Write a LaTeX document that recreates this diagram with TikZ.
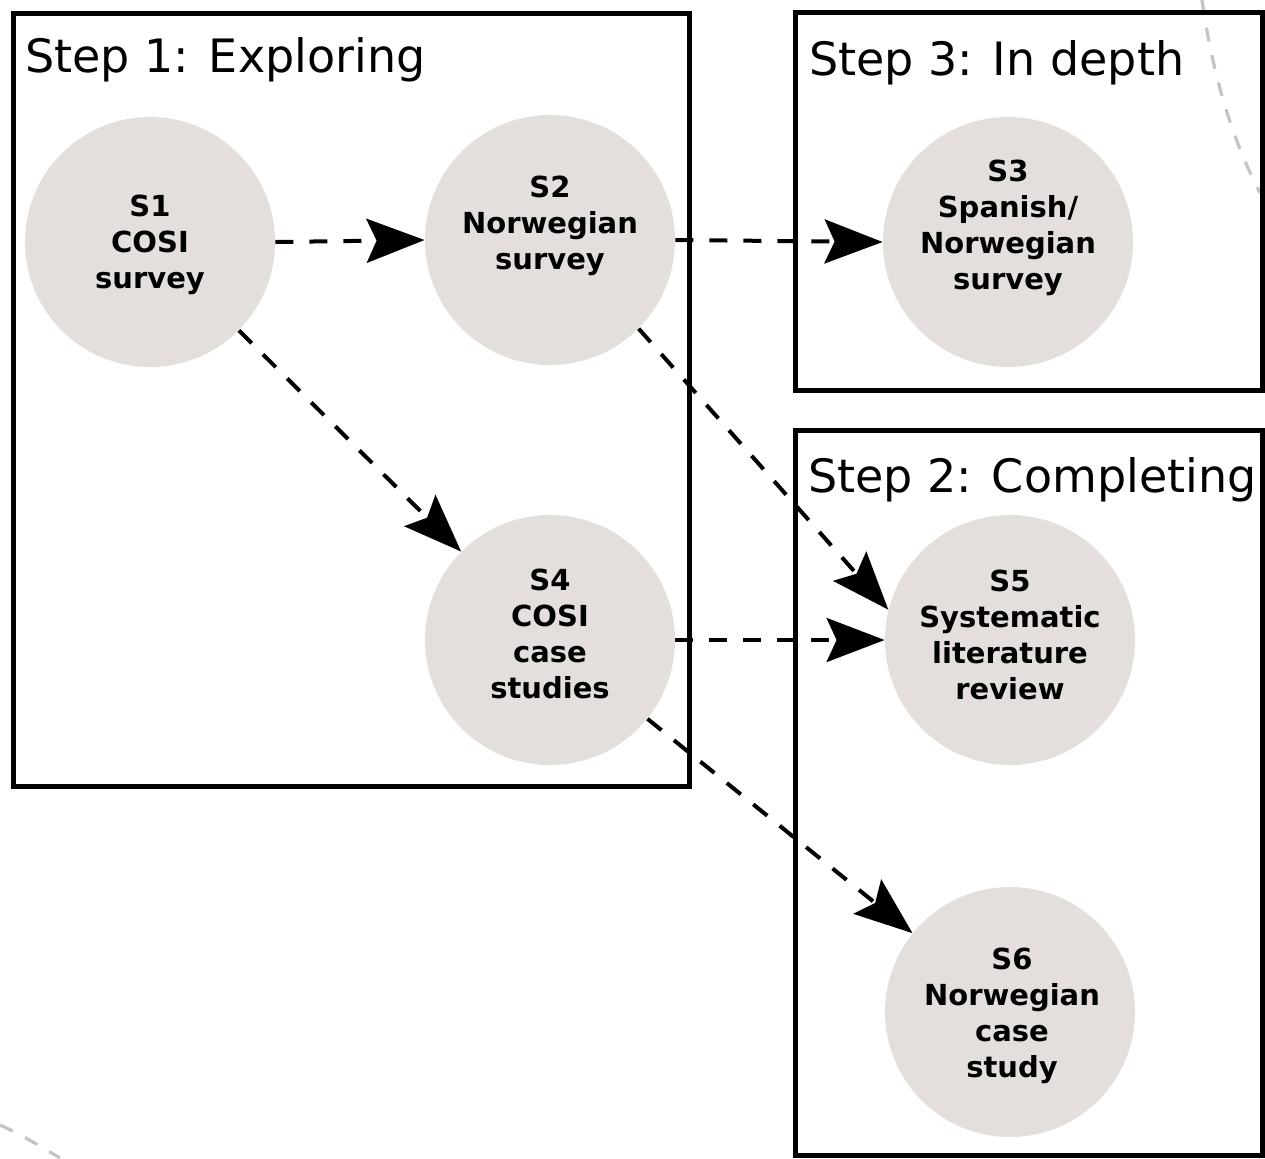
\documentclass[tikz,border=0pt]{standalone}
\usepackage{fontspec}
\setmainfont{DejaVu Sans}
\usetikzlibrary{arrows.meta}
\definecolor{stagefill}{RGB}{228,223,220}
\definecolor{arcgray}{RGB}{196,196,196}
\begin{document}
\begin{tikzpicture}[x=0.5pt, y=-0.5pt,
  stage/.style={circle, fill=stagefill, minimum size=125pt, inner sep=0pt},
  stagetext/.style={font=\fontsize{14.5}{18}\selectfont\bfseries, align=center, inner sep=0pt},
  flow/.style={line width=2pt, dash pattern=on 9pt off 8pt,
    -{Stealth[length=29pt, width=22pt, inset=5pt]}},
  stepbox/.style={line width=2.5pt},
  steptitle/.style={anchor=base west, inner sep=0pt, font=\fontsize{23}{27}\selectfont},
  faintarc/.style={arcgray, line width=1.6pt, dash pattern=on 7pt off 7pt}]
\useasboundingbox (0,0) rectangle (1265,1158);

% study circles
\node[stage] (S1) at (150,242) {};
\node[stage] (S2) at (550,240) {};
\node[stage] (S3) at (1008,242) {};
\node[stage] (S4) at (550,640) {};
\node[stage] (S5) at (1010,640) {};
\node[stage] (S6) at (1010,1012) {};

% study labels
\node[stagetext] (S1t) at (150,245) {S1\\COSI\\survey};
\node[stagetext] (S2t) at (550,226) {S2\\Norwegian\\survey};
\node[stagetext] (S3t) at (1008,228) {S3\\Spanish/\\Norwegian\\survey};
\node[stagetext] (S4t) at (550,634) {S4\\COSI\\case\\studies};
\node[stagetext] (S5t) at (1010,635) {S5\\Systematic\\literature\\review};
\node[stagetext] (S6t) at (1012,1016) {S6\\Norwegian\\case\\study};

% faint background arcs
\coordinate (arcA1) at (1202,0);
\coordinate (arcA2) at (1260,193);
\draw[faintarc] (arcA1) .. controls (1212,70) and (1230,135) .. (arcA2);
\coordinate (arcB1) at (0,1125);
\coordinate (arcB2) at (60,1158);
\draw[faintarc] (arcB1) .. controls (20,1134) and (40,1146) .. (arcB2);

% flows between studies
\draw[flow] (S1.east) -- (S2.west);
\draw[flow] (S2.east) -- (S3.west);
\draw[flow] (S1) -- (S4);
\draw[flow] (S2.-45) -- (S5.166);
\draw[flow] (S4.east) -- (S5.west);
\draw[flow] (S4) -- (S6);

% step frames
\draw[stepbox] (13,13) rectangle (689,786);
\draw[stepbox] (795,12) rectangle (1262,390);
\draw[stepbox] (795,430) rectangle (1262,1155);

\node[steptitle] (T1) at (25,72) {Step 1: Exploring};
\node[steptitle] (T3) at (809,75) {Step 3: In depth};
\node[steptitle] (T2) at (808,492) {Step 2: Completing};
\end{tikzpicture}
\end{document}
